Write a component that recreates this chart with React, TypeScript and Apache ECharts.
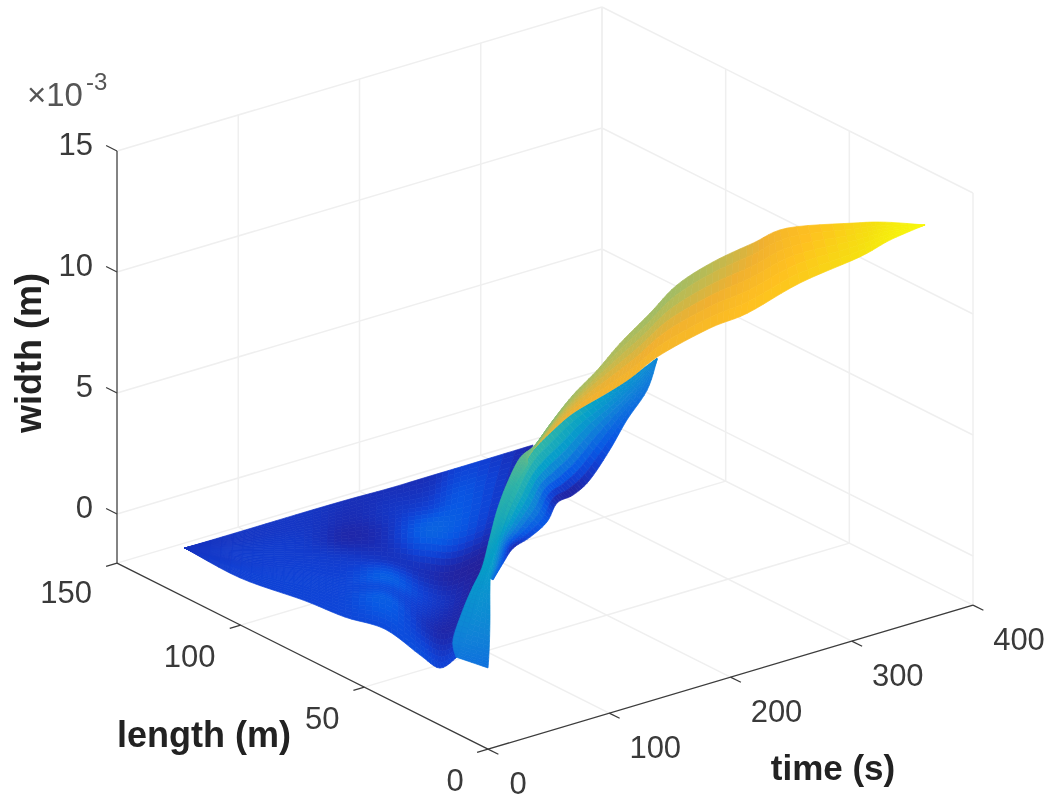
import React, { useEffect, useRef } from "react";
import * as echarts from "echarts";

// tick labels
const timeTicks = [0, 100, 200, 300, 400];
const lengthTicks = [0, 50, 100, 150];
const widthTicks = [0, 5, 10, 15];
const widthFloor = -2.03;

// Far, nearly flat blue sheet: rows run from the far tip towards the ridge, columns from back edge to front edge
const sheetTime = [
  [-17.5, -17.5, -17.5, -17.5, -17.5, -17.5, -17.5, -17.5],
  [29.8, 21, 9.8, -1.3, -9.7, -15.4, -21, -29.8],
  [79.5, 64.1, 46.3, 28.6, 10.7, 1.8, -7.1, -22.3],
  [121.1, 102.8, 87, 51.5, 23.3, 11.7, 0.1, -20.7],
  [153.2, 123.6, 101.3, 71.7, 24.8, 26.2, 2.5, -14.9],
  [186.4, 142.2, 90.5, 86.9, 47.6, 35.4, 23.2, -26],
  [204.7, 157, 116.8, 111.2, 68.5, 53.4, 38.2, -21.7],
  [279.1, 233.8, 192.9, 157.3, 117, 87.9, 58.7, -1.5],
];
const sheetLength = [
  [114, 114, 114, 114, 114, 114, 114, 114],
  [112.8, 109, 103.8, 98.6, 94.7, 92.1, 89.5, 85.7],
  [112.9, 105.6, 97, 88.4, 79.8, 75.6, 71.3, 63.8],
  [115.2, 106.5, 99.2, 82, 68.6, 63.1, 57.6, 47.7],
  [114.7, 100.6, 90, 75.8, 53.1, 53.9, 42.5, 34.4],
  [114.8, 93.8, 69.2, 68.1, 49.5, 43.9, 38.2, 14.7],
  [107.6, 86.3, 68.6, 67.9, 49, 42.6, 36.2, 8.8],
  [118.6, 101.7, 86.4, 74.3, 59.8, 47.9, 36, 11.8],
];
const sheetWidth = [
  [0.7, 0.7, 0.7, 0.7, 0.7, 0.7, 0.7, 0.7],
  [0.8, 0.8, 0.9, 1, 1, 1.05, 1.1, 1.1],
  [0.8, 0.8, 0.9, 1, 1.1, 1.15, 1.19, 1.19],
  [0.6, 0.5, 0.31, 0.9, 1.19, 1.25, 1.29, 1.29],
  [0.6, 0.8, 0.7, 0.8, 2, 1.45, 1.95, 1.39],
  [0.6, 1.1, 2.1, 0.6, 1.1, 0.95, 0.8, 1.49],
  [1.19, 1.7, 1.7, 0.2, 0.6, 0.45, 0.31, 1.19],
  [0.31, 0.4, 0.31, 0.01, -0.09, 0.2, 0.5, 1.19],
];

// Blue flank right of the ridge: [inner, outer] per station
const flankTime = [
  [351.7, 354.6], [307.3, 333.4], [269.9, 306.7], [209.4, 286.7], [161.9, 267.5], [126.6, 255.6],
  [103, 231.6], [83.5, 174.7], [62.8, 160.4], [51.3, 159.9], [27, 109.6], [28.1, 62.1],
];
const flankLength = [
  [104.1, 105.5], [93.2, 99.1], [84.2, 94.2], [68.2, 91.3], [54.3, 90], [43.8, 90.9],
  [35.9, 85.6], [30.5, 61.8], [24.3, 61.6], [21.4, 68.2], [12, 47.6], [13, 28.4],
];
const flankWidth = [
  [3.56, 3.37], [3.96, 2.77], [4.35, 2.18], [5.25, 1.39], [5.84, 0.5], [6.2, 0.01],
  [6.3, 0.31], [6, 1.59], [5.5, 1.19], [4.75, 0.4], [4.35, 1.59], [3.96, 2.58],
];

// Ridge band from the yellow tip down to the front shard: [upper, lower] per station
const bandTime = [
  [378.6, 378.6], [373.3, 352.3], [373, 329.2], [370.7, 293.4], [367.3, 244.9], [351.6, 222.6],
  [324, 176.2], [281, 144.3], [229.6, 119.3], [189.8, 88.4], [156.4, 65.8], [130.2, 66.5],
  [104.8, 83.7], [98.5, 99.8], [80.7, 85.2], [60, 66.9], [40.8, 51.3], [20.5, 27],
  [5, 15.7], [-14, -5.5], [-35.4, -22.1], [-41.5, -31.4],
];
const bandLength = [
  [8.9, 8.9], [22.5, 10.2], [35.3, 11], [60.8, 17.7], [72.8, 15.2], [81.4, 19.3],
  [82.4, 16.8], [72.2, 13.2], [59.1, 10.4], [48.9, 9], [42.3, 7.2], [37.5, 14.4],
  [32.4, 25.7], [35.4, 33.1], [31.8, 31.3], [25.7, 26.3], [19.2, 21.4], [12.4, 12],
  [8.6, 6.9], [3.3, -3.5], [-3.2, -11.3], [-7.4, -15.4],
];
const bandWidth = [
  [13.54, 13.54], [13.04, 13.24], [12.35, 12.85], [10.87, 11.96], [9.69, 11.56], [8.7, 11.07],
  [8.11, 10.77], [8.11, 10.48], [8.3, 10.38], [8.3, 10.08], [8.11, 9.69], [7.71, 8.6],
  [7.32, 7.32], [6.72, 6.53], [6.13, 5.93], [5.64, 5.34], [5.14, 4.75], [4.55, 4.35],
  [4.16, 3.96], [3.76, 3.56], [3.17, 2.97], [2.77, 2.58],
];

// colour map: width value -> colour
const mapValues = [-0.29, 0.5, 1.1, 1.79, 3.17, 4.55, 5.93, 7.32, 8.7, 10.08, 11.47, 12.85, 13.54];
const mapColors = ["#2a1a8c", "#1a2cb4", "#1040d4", "#0858e4", "#1080d8", "#06a0c8", "#2fb5a8", "#7dbd7c", "#b8bb55", "#f0b030", "#fec020", "#f5e010", "#f8f80a"];

const hex = (c: string) => [1, 3, 5].map((i) => parseInt(c.slice(i, i + 2), 16));
const colorOf = (z: number) => {
  let k = 0;
  while (k < mapValues.length - 2 && z > mapValues[k + 1]) k++;
  const f = Math.max(0, Math.min(1, (z - mapValues[k]) / (mapValues[k + 1] - mapValues[k])));
  const a = hex(mapColors[k]);
  const b = hex(mapColors[k + 1]);
  return `rgb(${a.map((v, i) => Math.round(v + (b[i] - v) * f)).join(",")})`;
};

// orthographic view of the axes box
const view = {
  ox: 488, oy: 700,
  tx: 1.2125, ty: -0.36,
  lx: -2.4733, ly: -1.24,
  zy: -24.2,
};
const project = (t: number, l: number, z: number): [number, number] => [
  view.ox + view.tx * t + view.lx * l,
  view.oy + view.ty * t + view.ly * l + view.zy * z,
];

const cr = (a: number, b: number, c: number, d: number, f: number) =>
  0.5 * (2 * b + (c - a) * f + (2 * a - 5 * b + 4 * c - d) * f * f + (3 * b - a - 3 * c + d) * f * f * f);
const smooth = (G: number[][], i: number, j: number, u: number, v: number) => {
  const m = G.length, n = G[0].length;
  const at = (r: number, c: number) => G[Math.max(0, Math.min(m - 1, r))][Math.max(0, Math.min(n - 1, c))];
  const row = (r: number) => cr(at(r, j - 1), at(r, j), at(r, j + 1), at(r, j + 2), v);
  return cr(row(i - 1), row(i), row(i + 1), row(i + 2), u);
};
// smooth along the stations, straight across the rails
const along = (G: number[][], i: number, j: number, u: number, v: number) => {
  const m = G.length;
  const at = (r: number, c: number) => G[Math.max(0, Math.min(m - 1, r))][c];
  const rail = (c: number) => cr(at(i - 1, c), at(i, c), at(i + 1, c), at(i + 2, c), u);
  return rail(j) * (1 - v) + rail(j + 1) * v;
};

const patches = [
  { T: sheetTime, L: sheetLength, Z: sheetWidth, su: 6, sv: 6 },
  { T: flankTime, L: flankLength, Z: flankWidth, su: 6, sv: 8 },
  { T: bandTime, L: bandLength, Z: bandWidth, su: 6, sv: 6 },
];

const INK = "#3a3a3a";
const FONT = "Liberation Sans, Arial, sans-serif";

export default function App() {
  const ref = useRef<HTMLDivElement>(null);
  useEffect(() => {
    const chart = echarts.init(ref.current!, undefined, { renderer: "svg" });

    const renderSurface = (params: any, api: any) => {
      const P = patches[params.dataIndex];
      const children: any[] = [];
      const pt = (i: number, j: number, u: number, v: number) => {
        const [x, y] = project(along(P.T, i, j, u, v), along(P.L, i, j, u, v), along(P.Z, i, j, u, v));
        return api.coord([x, y]);
      };
      for (let i = 0; i < P.T.length - 1; i++) {
        for (let j = 0; j < P.T[0].length - 1; j++) {
          for (let a = 0; a < P.su; a++) {
            for (let b = 0; b < P.sv; b++) {
              const u0 = a / P.su, u1 = (a + 1) / P.su, v0 = b / P.sv, v1 = (b + 1) / P.sv;
              const fill = colorOf(smooth(P.Z, i, j, (u0 + u1) / 2, (v0 + v1) / 2));
              children.push({
                type: "polygon",
                shape: { points: [pt(i, j, u0, v0), pt(i, j, u0, v1), pt(i, j, u1, v1), pt(i, j, u1, v0)] },
                style: { fill, stroke: fill, lineWidth: 0.7 },
                silent: true,
              });
            }
          }
        }
      }
      return { type: "group", children };
    };

    const renderBox = (_p: any, api: any) => {
      const children: any[] = [];
      const line = (a: [number, number, number], b: [number, number, number], stroke: string, w: number) => {
        const p = api.coord(project(...a));
        const q = api.coord(project(...b));
        children.push({ type: "line", shape: { x1: p[0], y1: p[1], x2: q[0], y2: q[1] }, style: { stroke, lineWidth: w }, silent: true });
      };
      const tMax = timeTicks[timeTicks.length - 1];
      const lMax = lengthTicks[lengthTicks.length - 1];
      const zMax = widthTicks[widthTicks.length - 1];
      const GRID = "#efefef";
      timeTicks.forEach((t) => {
        line([t, lMax, widthFloor], [t, lMax, zMax], GRID, 1.5);
        line([t, 0, widthFloor], [t, lMax, widthFloor], GRID, 1.5);
      });
      lengthTicks.forEach((l) => {
        line([tMax, l, widthFloor], [tMax, l, zMax], GRID, 1.5);
        line([0, l, widthFloor], [tMax, l, widthFloor], GRID, 1.5);
      });
      widthTicks.forEach((z) => {
        line([0, lMax, z], [tMax, lMax, z], GRID, 1.5);
        line([tMax, 0, z], [tMax, lMax, z], GRID, 1.5);
      });
      // axes and tick marks
      line([0, 0, widthFloor], [tMax, 0, widthFloor], INK, 1.2);
      line([0, 0, widthFloor], [0, lMax, widthFloor], INK, 1.2);
      line([0, lMax, widthFloor], [0, lMax, zMax], INK, 1.2);
      timeTicks.forEach((t) => line([t, 0, widthFloor], [t, -4.2, widthFloor], INK, 1.2));
      lengthTicks.forEach((l) => line([0, l, widthFloor], [-9, l, widthFloor], INK, 1.2));
      widthTicks.forEach((z) => line([0, lMax, z], [0, lMax + 4.4, z], INK, 1.2));

      const label = (text: string, x: number, y: number, size: number, extra: any = {}) =>
        children.push({
          type: "text", x, y, silent: true, rotation: extra.rotation || 0,
          style: {
            text, x: 0, y: 0, fill: extra.fill || INK,
            font: `${extra.weight || "normal"} ${size}px ${FONT}`,
            align: extra.align || "center", verticalAlign: "middle",
          },
        });
      timeTicks.forEach((t) => {
        const [x, y] = api.coord(project(t, 0, widthFloor));
        label(String(t), x + 46 - (t === 0 ? 16 : 0), y + 34, 31);
      });
      lengthTicks.forEach((l) => {
        const [x, y] = api.coord(project(0, l, widthFloor));
        label(String(l), x - 33 - Math.min(l, 100) * 0.18, y + 31 - (l === 150 ? 2 : 0), 31);
      });
      widthTicks.forEach((z) => {
        const [x, y] = api.coord(project(0, lMax, z));
        label(String(z), x - 24, y - 7, 31, { align: "right" });
      });
      label("length (m)", 204, 734, 36, { weight: "bold", fill: "#222" });
      label("time (s)", 833, 767, 35, { weight: "bold", fill: "#222" });
      label("width (m)", 28, 353, 36, { weight: "bold", fill: "#222", rotation: Math.PI / 2 });
      label("×10", 27, 94, 33, { align: "left", fill: "#555" });
      label("-3", 86, 81, 24, { align: "left", fill: "#555" });
      return { type: "group", children };
    };

    chart.setOption({
      animation: false,
      grid: { left: 0, right: 0, top: 0, bottom: 0 },
      xAxis: { type: "value", min: 0, max: 1057, show: false },
      yAxis: { type: "value", min: 0, max: 803, inverse: true, show: false },
      series: [
        { type: "custom", coordinateSystem: "cartesian2d", clip: false, silent: true, data: [[0, 0]], renderItem: renderBox },
        { type: "custom", coordinateSystem: "cartesian2d", clip: false, silent: true, data: patches.map((_, i) => [i, 0]), renderItem: renderSurface },
      ],
    });
    return () => chart.dispose();
  }, []);
  return (
    <div
      ref={ref}
      style={{ position: "absolute", left: 0, top: 0, width: 1057, height: 803, background: "#fff", filter: "blur(0.6px)" }}
    />
  );
}
